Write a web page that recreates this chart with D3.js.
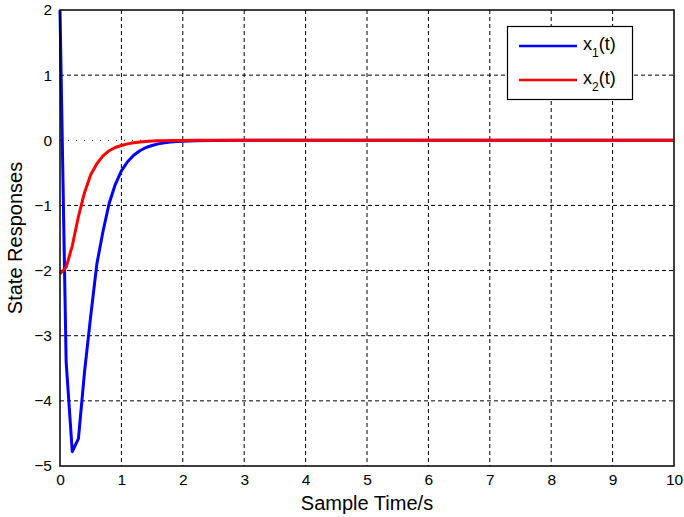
<!DOCTYPE html>
<html>
<head>
<meta charset="utf-8">
<script src="https://cdn.jsdelivr.net/npm/d3@7.9.0/dist/d3.min.js"></script>
<style>
  body { margin: 0; background: #fff; }
  svg text { font-family: "Liberation Sans", Arial, sans-serif; fill: #000; }
</style>
</head>
<body>
<svg id="chart" width="684" height="517"></svg>
<script>
// time samples (s)
const time = [0, 0.1, 0.2, 0.3, 0.4, 0.5, 0.6, 0.7, 0.8, 0.9, 1.0, 1.1, 1.2, 1.3, 1.4, 1.5, 1.6, 1.7, 1.8, 1.9, 2.0, 2.2, 2.5, 3, 4, 5, 6, 7, 8, 9, 10];

// state x1(t)
const x1 = [2, -3.4, -4.78, -4.58, -3.55, -2.7, -1.9, -1.4, -0.97, -0.68, -0.47, -0.33, -0.23, -0.16, -0.11, -0.08, -0.055, -0.04, -0.027, -0.019, -0.013, -0.006, -0.002, 0, 0, 0, 0, 0, 0, 0, 0];

// state x2(t)
const x2 = [-2.05, -1.95, -1.62, -1.17, -0.8, -0.53, -0.36, -0.24, -0.16, -0.11, -0.08, -0.055, -0.038, -0.026, -0.018, -0.012, -0.008, -0.006, -0.004, -0.003, -0.002, -0.001, 0, 0, 0, 0, 0, 0, 0, 0, 0];

const xTicks = [0, 1, 2, 3, 4, 5, 6, 7, 8, 9, 10];
const yTicks = [-5, -4, -3, -2, -1, 0, 1, 2];

const series = [
  { name: "1", values: x1, color: "#0000ff" },
  { name: "2", values: x2, color: "#ff0000" }
];

const svg = d3.select("#chart");
const m = { left: 60, right: 674, top: 10, bottom: 466 };

const x = d3.scaleLinear().domain([0, 10]).range([m.left, m.right]);
const y = d3.scaleLinear().domain([-5, 2]).range([m.bottom, m.top]);

// grid
const grid = svg.append("g");
grid.selectAll(".vg").data(xTicks.slice(1, -1)).join("line")
  .attr("x1", d => x(d)).attr("x2", d => x(d))
  .attr("y1", m.top).attr("y2", m.bottom)
  .attr("stroke", "#000").attr("stroke-width", 1)
  .attr("stroke-dasharray", "4,3");
grid.selectAll(".hg").data(yTicks.slice(1, -1)).join("line")
  .attr("x1", m.left).attr("x2", m.right)
  .attr("y1", d => y(d)).attr("y2", d => y(d))
  .attr("stroke", "#000").attr("stroke-width", 1)
  .attr("stroke-dasharray", d => d === 0 ? "1,7" : "4,3");

// axes
const xAxis = d3.axisBottom(x).tickValues(xTicks).tickSize(0).tickPadding(8);
const yAxis = d3.axisLeft(y).tickValues(yTicks).tickSize(0).tickPadding(8)
  .tickFormat(d => d < 0 ? "\u2212" + Math.abs(d) : d);

const gx = svg.append("g").attr("transform", `translate(0,${m.bottom})`).call(xAxis);
const gy = svg.append("g").attr("transform", `translate(${m.left},0)`).call(yAxis);
[gx, gy].forEach(g => {
  g.select(".domain").remove();
  g.selectAll("text").style("font-size", "15.5px").attr("fill", "#000");
});

// lines
const line = d3.line().x((d, i) => x(time[i])).y(d => y(d));
series.forEach(s => {
  svg.append("path")
    .attr("d", line(s.values))
    .attr("fill", "none")
    .attr("stroke", s.color)
    .attr("stroke-width", 3)
    .attr("stroke-linejoin", "round");
});

// plot box
svg.append("rect")
  .attr("x", m.left).attr("y", m.top)
  .attr("width", m.right - m.left).attr("height", m.bottom - m.top)
  .attr("fill", "none").attr("stroke", "#000").attr("stroke-width", 1.5);

// axis labels
svg.append("text")
  .attr("x", (m.left + m.right) / 2).attr("y", 510)
  .attr("text-anchor", "middle").style("font-size", "20px")
  .text("Sample Time/s");
svg.append("text")
  .attr("transform", `translate(22,${(m.top + m.bottom) / 2}) rotate(-90)`)
  .attr("text-anchor", "middle").style("font-size", "20px")
  .text("State Responses");

// legend
const lg = svg.append("g");
lg.append("rect")
  .attr("x", 507.5).attr("y", 26.5).attr("width", 125).attr("height", 73)
  .attr("fill", "#fff").attr("stroke", "#000").attr("stroke-width", 1.2);
series.forEach((s, i) => {
  const ly = 46 + i * 34;
  lg.append("line")
    .attr("x1", 519).attr("x2", 577).attr("y1", ly).attr("y2", ly)
    .attr("stroke", s.color).attr("stroke-width", 2.5);
  const t = lg.append("text").attr("x", 583).attr("y", ly + 3.5).style("font-size", "18px");
  t.append("tspan").text("x");
  t.append("tspan").attr("dy", 7).style("font-size", "12px").text(s.name);
  t.append("tspan").attr("dy", -7).text("(t)");
});
</script>
</body>
</html>
